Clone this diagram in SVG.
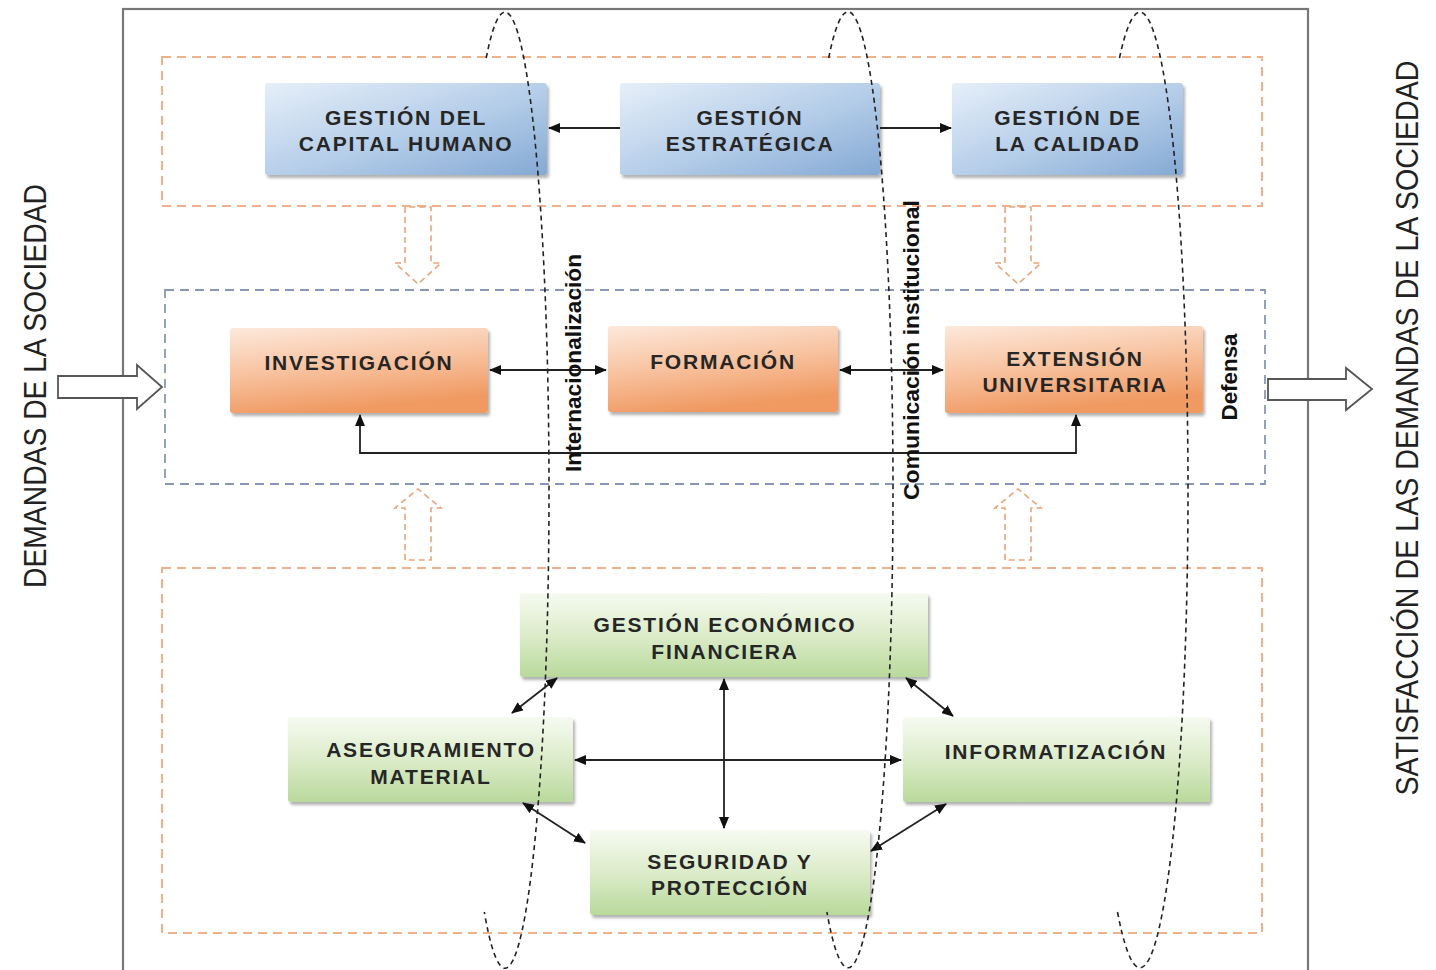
<svg xmlns="http://www.w3.org/2000/svg" width="1436" height="970" viewBox="0 0 1436 970">
<style>
.frame{fill:none;stroke:#777;stroke-width:2.2}
.oc{fill:none;stroke:#efb08a;stroke-width:2;stroke-dasharray:9 6}
.bc{fill:none;stroke:#8797b5;stroke-width:1.8;stroke-dasharray:9 6}
.oa{fill:#fff;stroke:#e9a47a;stroke-width:1.6;stroke-dasharray:6 4}
.ga{fill:#fff;stroke:#555;stroke-width:1.8}
.nt{font-family:"Liberation Sans",Arial,sans-serif;font-weight:bold;font-size:21px;letter-spacing:1.8px;fill:#262626;text-anchor:middle;dominant-baseline:central}
.side{font-family:"Liberation Sans",Arial,sans-serif;font-size:31px;fill:#222;text-anchor:middle;dominant-baseline:central}
.vl{font-family:"Liberation Sans",Arial,sans-serif;font-weight:bold;font-size:22px;fill:#111;text-anchor:middle;dominant-baseline:central}
.cn{fill:none;stroke:#222;stroke-width:1.8}
.el{fill:none;stroke:#222;stroke-width:1.6;stroke-dasharray:5 4}
</style>
<defs>
<linearGradient id="gb" x1="0" y1="0" x2="1" y2="1">
<stop offset="0" stop-color="#e6eff9"/><stop offset="0.55" stop-color="#b3cce8"/><stop offset="1" stop-color="#84a9d4"/>
</linearGradient>
<linearGradient id="go" x1="0" y1="0" x2="0.3" y2="1">
<stop offset="0" stop-color="#fde9dc"/><stop offset="0.5" stop-color="#f8c4a2"/><stop offset="1" stop-color="#f09a62"/>
</linearGradient>
<linearGradient id="gg" x1="0" y1="0" x2="0" y2="1">
<stop offset="0" stop-color="#f6faf1"/><stop offset="0.5" stop-color="#dcecca"/><stop offset="1" stop-color="#b9d99b"/>
</linearGradient>
<filter id="sh" x="-5%" y="-10%" width="112%" height="125%">
<feDropShadow dx="2" dy="3" stdDeviation="1.5" flood-color="#000" flood-opacity="0.3"/>
</filter>
<marker id="ah" markerUnits="userSpaceOnUse" markerWidth="12" markerHeight="10" refX="11" refY="5" orient="auto-start-reverse">
<path d="M0,0 L12,5 L0,10 z" fill="#111"/>
</marker>
</defs>
<rect width="1436" height="970" fill="#fff"/>
<rect class="frame" x="123" y="9" width="1185" height="975"/>
<g id="containers">
<rect class="oc" x="162" y="57" width="1100" height="149"/>
<rect class="bc" x="165" y="290" width="1100" height="194"/>
<rect class="oc" x="162" y="568" width="1100" height="365"/>
</g>
<g id="block-arrows">
<path class="oa" d="M405,207 L405,263 L395,263 L418,284 L441,263 L431,263 L431,207 Z"/>
<path class="oa" d="M1005,207 L1005,263 L995,263 L1018,284 L1041,263 L1031,263 L1031,207 Z"/>
<path class="oa" d="M405,560 L405,508 L395,508 L418,489 L441,508 L431,508 L431,560 Z"/>
<path class="oa" d="M1005,560 L1005,508 L995,508 L1018,489 L1041,508 L1031,508 L1031,560 Z"/>
<path class="ga" d="M58,376 L137,376 L137,365 L162,387 L137,409 L137,398 L58,398 Z"/>
<path class="ga" d="M1268,379 L1346,379 L1346,368 L1372,389 L1346,410 L1346,400 L1268,400 Z"/>
</g>
<g id="n-capital">
<rect x="265" y="83" width="282" height="92" rx="3" fill="url(#gb)" filter="url(#sh)"/>
<text class="nt" x="406" y="117">GESTIÓN DEL</text>
<text class="nt" x="406" y="143">CAPITAL HUMANO</text>
</g>
<g id="n-estrategica">
<rect x="620" y="83" width="260" height="92" rx="3" fill="url(#gb)" filter="url(#sh)"/>
<text class="nt" x="750" y="117">GESTIÓN</text>
<text class="nt" x="750" y="143">ESTRATÉGICA</text>
</g>
<g id="n-calidad">
<rect x="952" y="83" width="231" height="92" rx="3" fill="url(#gb)" filter="url(#sh)"/>
<text class="nt" x="1068" y="117">GESTIÓN DE</text>
<text class="nt" x="1068" y="143">LA CALIDAD</text>
</g>
<g id="n-investigacion">
<rect x="230" y="328" width="258" height="85" rx="3" fill="url(#go)" filter="url(#sh)"/>
<text class="nt" x="359" y="362">INVESTIGACIÓN</text>
</g>
<g id="n-formacion">
<rect x="608" y="326" width="230" height="86" rx="3" fill="url(#go)" filter="url(#sh)"/>
<text class="nt" x="723" y="361">FORMACIÓN</text>
</g>
<g id="n-extension">
<rect x="945" y="326" width="258" height="87" rx="3" fill="url(#go)" filter="url(#sh)"/>
<text class="nt" x="1075" y="358">EXTENSIÓN</text>
<text class="nt" x="1075" y="384">UNIVERSITARIA</text>
</g>
<g id="n-financiera">
<rect x="520" y="593" width="408" height="84" rx="3" fill="url(#gg)" filter="url(#sh)"/>
<text class="nt" x="725" y="624">GESTIÓN ECONÓMICO</text>
<text class="nt" x="725" y="651">FINANCIERA</text>
</g>
<g id="n-aseguramiento">
<rect x="288" y="717" width="285" height="85" rx="3" fill="url(#gg)" filter="url(#sh)"/>
<text class="nt" x="431" y="749">ASEGURAMIENTO</text>
<text class="nt" x="431" y="776">MATERIAL</text>
</g>
<g id="n-informatizacion">
<rect x="903" y="717" width="307" height="85" rx="3" fill="url(#gg)" filter="url(#sh)"/>
<text class="nt" x="1056" y="751">INFORMATIZACIÓN</text>
</g>
<g id="n-seguridad">
<rect x="590" y="830" width="280" height="85" rx="3" fill="url(#gg)" filter="url(#sh)"/>
<text class="nt" x="730" y="861">SEGURIDAD Y</text>
<text class="nt" x="730" y="887">PROTECCIÓN</text>
</g>
<g id="connectors">
<line class="cn" x1="620" y1="128" x2="549" y2="128" marker-end="url(#ah)"/>
<line class="cn" x1="880" y1="128" x2="951" y2="128" marker-end="url(#ah)"/>
<line class="cn" x1="490" y1="370" x2="606" y2="370" marker-start="url(#ah)" marker-end="url(#ah)"/>
<line class="cn" x1="840" y1="370" x2="943" y2="370" marker-start="url(#ah)" marker-end="url(#ah)"/>
<path class="cn" d="M360,415 V453 H1076 V415" marker-start="url(#ah)" marker-end="url(#ah)"/>
<line class="cn" x1="557" y1="678" x2="512" y2="713" marker-start="url(#ah)" marker-end="url(#ah)"/>
<line class="cn" x1="523" y1="803" x2="585" y2="843" marker-start="url(#ah)" marker-end="url(#ah)"/>
<line class="cn" x1="724" y1="679" x2="724" y2="828" marker-start="url(#ah)" marker-end="url(#ah)"/>
<line class="cn" x1="575" y1="760" x2="901" y2="760" marker-start="url(#ah)" marker-end="url(#ah)"/>
<line class="cn" x1="906" y1="678" x2="953" y2="716" marker-start="url(#ah)" marker-end="url(#ah)"/>
<line class="cn" x1="946" y1="804" x2="871" y2="851" marker-start="url(#ah)" marker-end="url(#ah)"/>
</g>
<g id="axes">
<path class="el" d="M486.2,58 A44,478 0 0 1 549,490 A44,478 0 0 1 484.3,912"/>
<path class="el" d="M828.7,58 A45,478 0 0 1 893,490 A45,478 0 0 1 826.9,912"/>
<path class="el" d="M1119.5,58 A48,478 0 0 1 1188,490 A48,478 0 0 1 1117.5,912"/>
</g>
<g id="labels">
<text class="side" transform="translate(35,386) rotate(-90)" textLength="404" lengthAdjust="spacingAndGlyphs">DEMANDAS DE LA SOCIEDAD</text>
<text class="side" transform="translate(1407,428) rotate(-90)" textLength="735" lengthAdjust="spacingAndGlyphs">SATISFACCIÓN DE LAS DEMANDAS DE LA SOCIEDAD</text>
<text class="vl" transform="translate(573,363) rotate(-90)" textLength="218" lengthAdjust="spacingAndGlyphs">Internacionalización</text>
<text class="vl" transform="translate(911,350) rotate(-90)" textLength="300" lengthAdjust="spacingAndGlyphs">Comunicación institucional</text>
<text class="vl" transform="translate(1229,377) rotate(-90)" textLength="87" lengthAdjust="spacingAndGlyphs">Defensa</text>
</g>
</svg>
